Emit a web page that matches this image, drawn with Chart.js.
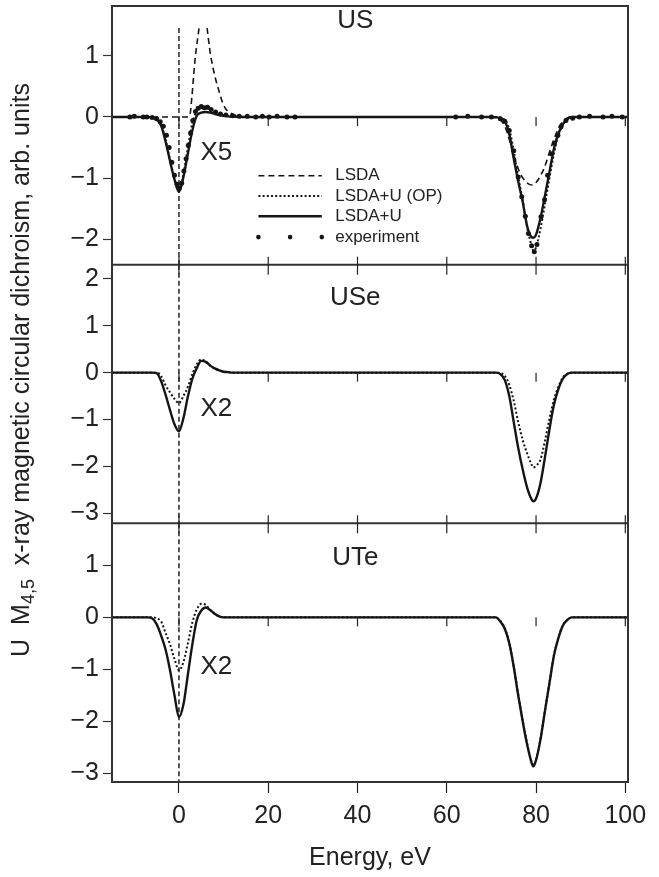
<!DOCTYPE html>
<html>
<head>
<meta charset="utf-8">
<script src="https://cdn.jsdelivr.net/npm/chart.js@4.4.1/dist/chart.umd.min.js"></script>
<style>
html,body{margin:0;padding:0;background:#fff;}
canvas{display:block;}
</style>
</head>
<body>
<canvas id="c" width="659" height="877" style="width:659px;height:877px"></canvas>
<script>
// ---------------- DATA ----------------
const xTicks = [0, 20, 40, 60, 80, 100];
const usTicks = [-2, -1, 0, 1];
const useTicks = [-3, -2, -1, 0, 1, 2];
const uteTicks = [-3, -2, -1, 0, 1];

const panelNames = ['US', 'USe', 'UTe'];
const seriesNames = ['LSDA', 'LSDA+U (OP)', 'LSDA+U', 'experiment'];
const scaleNotes = ['X5', 'X2', 'X2'];

// common energy grid (eV) for the calculated spectra
const energy = [-15, -10, -7, -6, -5, -4, -3, -2, -1, 0,
  1, 2, 3, 4, 5, 6, 7, 8, 9, 10, 11, 12,
  14, 20, 40, 60, 68, 70,
  71, 72, 73, 74, 75, 76, 77, 78, 79,
  79.4,
  80, 81, 82, 83, 84, 85, 86, 87, 88,
  90, 95, 100.6];

const usLsdaU = [0, 0, 0, -0.01, -0.04, -0.14, -0.4, -0.72, -1.02, -1.22,
  -0.98, -0.6, -0.22, 0.02, 0.07, 0.08, 0.07, 0.05, 0.03, 0.02, 0.01, 0.005,
  0, 0, 0, 0, 0, 0,
  -0.005, -0.02, -0.07, -0.28, -0.68, -1.05, -1.38, -1.78, -1.96,
  -1.97,
  -1.92, -1.65, -1.28, -0.9, -0.52, -0.27, -0.12, -0.03, 0,
  0, 0, 0];

const usLsdaUOP = [0, 0, 0, -0.01, -0.04, -0.13, -0.37, -0.7, -1.0, -1.2,
  -0.93, -0.5, -0.1, 0.1, 0.16, 0.15, 0.12, 0.08, 0.05, 0.03, 0.02, 0.01,
  0, 0, 0, 0, 0, 0,
  0, -0.01, -0.05, -0.2, -0.55, -0.98, -1.36, -1.8, -2.1,
  -2.18,
  -2.13, -1.82, -1.42, -1.0, -0.6, -0.3, -0.13, -0.04, -0.01,
  0, 0, 0];

const useLsdaU = [0, 0, 0, 0, -0.01, -0.18, -0.47, -0.8, -1.1, -1.25,
  -0.97, -0.51, -0.13, 0.1, 0.25, 0.23, 0.15, 0.09, 0.05, 0.02, 0.01, 0,
  0, 0, 0, 0, 0, 0,
  0, -0.03, -0.16, -0.5, -1.05, -1.6, -2.06, -2.45, -2.7,
  -2.74,
  -2.68, -2.35, -1.8, -1.21, -0.69, -0.35, -0.13, -0.03, 0,
  0, 0, 0];

const useLsdaUOP = [0, 0, 0, 0, 0, -0.07, -0.27, -0.42, -0.56, -0.65,
  -0.5, -0.3, -0.03, 0.18, 0.28, 0.24, 0.15, 0.09, 0.05, 0.02, 0.01, 0,
  0, 0, 0, 0, 0, 0,
  0, -0.01, -0.07, -0.26, -0.6, -1.05, -1.43, -1.72, -1.96,
  -2.02,
  -1.98, -1.85, -1.45, -0.98, -0.58, -0.3, -0.1, -0.02, 0,
  0, 0, 0];

const uteLsdaU = [0, 0, 0, -0.02, -0.13, -0.35, -0.62, -1.02, -1.5, -1.92,
  -1.68, -1.1, -0.52, -0.05, 0.13, 0.19, 0.14, 0.07, 0.02, 0, 0, 0,
  0, 0, 0, 0, 0, 0,
  0, -0.08, -0.22, -0.5, -0.95, -1.5, -2.0, -2.45, -2.8,
  -2.87,
  -2.75, -2.35, -1.8, -1.27, -0.74, -0.4, -0.16, -0.05, 0,
  0, 0, 0];

const uteLsdaUOP = [0, 0, 0, 0, -0.02, -0.08, -0.3, -0.52, -0.8, -1.02,
  -0.86, -0.5, -0.1, 0.15, 0.26, 0.24, 0.14, 0.07, 0.02, 0, 0, 0,
  0, 0, 0, 0, 0, 0,
  0, -0.07, -0.21, -0.49, -0.94, -1.48, -1.98, -2.43, -2.78,
  -2.85,
  -2.73, -2.33, -1.79, -1.26, -0.73, -0.39, -0.15, -0.05, 0,
  0, 0, 0];

// plain LSDA for US (clipped at the top of the M5 peak)
const lsdaEnergy = [-15, -5, 0, 2, 2.5, 2.9, 3.6, 4.5, 5.4, 6.3, 7, 8, 8.7, 9.8, 10.5, 11.4, 12.5, 13.5, 16, 40,
  68, 71, 72, 73, 73.6, 74.7, 76.3, 77.5, 78.5, 79.2, 80, 81, 81.9, 83.4, 85.2, 86.7, 88, 100.6];
const usLsda = [0, 0, 0, 0, 0.05, 0.33, 0.93, 1.45, null, 1.45, 1.05, 0.68, 0.49, 0.23, 0.13, 0.07, 0.03, 0.01, 0, 0,
  0, -0.01, -0.05, -0.15, -0.27, -0.54, -0.9, -1.04, -1.1, -1.11, -1.07, -0.96, -0.82, -0.49, -0.16, -0.03, 0, 0];

// vertical dashed line at E = 0 in each panel
const markerEnergy = [0, 0];
const usMarker = [1.45, -2.41];
const useMarker = [2.3, -3.21];
const uteMarker = [1.81, -3.17];

// experiment (US)
const expEnergy = [-11, -10, -8, -7.2, -6, -5, -4.2, -3.5, -2.8, -2.2,
  -1.6, -1, -0.4, 0.1, 0.6, 1.1, 1.6, 2.1, 2.6, 3.1,
  3.7, 4.3, 5, 5.7, 6.4, 7.2, 8.2, 9.3, 10.5, 12,
  13.5, 15.3, 17.2, 18.7, 20.2, 22, 24.2, 26,
  62, 64.7, 67.8, 70,
  72, 73, 74, 75, 76, 76.8, 77.6, 78.3, 79, 79.6,
  80.2, 81.1, 81.9, 82.6, 83.4, 84.1, 84.9, 85.6, 86.7, 88.2,
  89.7, 92, 95, 97, 99.3];
const usExperiment = [0, 0.01, 0, 0, -0.01, -0.03, -0.08, -0.15, -0.3, -0.5,
  -0.74, -0.95, -1.1, -1.16, -1.08, -0.88, -0.68, -0.46, -0.26, -0.06,
  0.09, 0.14, 0.17, 0.15, 0.16, 0.12, 0.08, 0.05, 0.03, 0.02,
  0.01, 0.01, 0, 0.01, 0, 0.01, 0, 0,
  0, 0.01, 0, 0,
  -0.03, -0.07, -0.22, -0.55, -0.98, -1.3, -1.62, -1.9, -2.1, -2.2,
  -2.08, -1.63, -1.35, -0.95, -0.6, -0.43, -0.3, -0.16, -0.06, -0.02,
  0, 0.01, 0, 0.01, 0];

// ---------------- STYLE ----------------
const FONT = '"Liberation Sans", Arial, Helvetica, sans-serif';
const INK = '#151515';
const TEXT = '#222';
const FRAME = '#333';
const TICK_FONT = 25;

const pts = (xs, ys) => xs.map((x, i) => ({x: x, y: ys[i]}));
const solid = {borderColor: INK, borderWidth: 2.4, cubicInterpolationMode: 'monotone', pointRadius: 0, fill: false};
const dotted = {borderColor: INK, borderWidth: 2, borderDash: [2, 2.2], cubicInterpolationMode: 'monotone', pointRadius: 0, fill: false};
const dashed = {borderColor: INK, borderWidth: 1.6, borderDash: [6, 4], cubicInterpolationMode: 'monotone', pointRadius: 0, fill: false};
const marker = {borderColor: '#222', borderWidth: 1.5, borderDash: [5, 3], tension: 0, pointRadius: 0, fill: false};

const datasets = [
  Object.assign({label: seriesNames[2] + ' ' + panelNames[0], yAxisID: 'yUS', data: pts(energy, usLsdaU)}, solid),
  Object.assign({label: seriesNames[1] + ' ' + panelNames[0], yAxisID: 'yUS', data: pts(energy, usLsdaUOP)}, dotted),
  Object.assign({label: seriesNames[0] + ' ' + panelNames[0], yAxisID: 'yUS', data: pts(lsdaEnergy, usLsda), spanGaps: false}, dashed),
  {label: seriesNames[3] + ' ' + panelNames[0], yAxisID: 'yUS', data: pts(expEnergy, usExperiment), showLine: false,
   pointRadius: 2.5, pointBackgroundColor: INK, pointBorderWidth: 0, borderColor: INK},
  Object.assign({label: 'E=0 ' + panelNames[0], yAxisID: 'yUS', data: pts(markerEnergy, usMarker)}, marker),

  Object.assign({label: seriesNames[2] + ' ' + panelNames[1], yAxisID: 'yUSe', data: pts(energy, useLsdaU)}, solid),
  Object.assign({label: seriesNames[1] + ' ' + panelNames[1], yAxisID: 'yUSe', data: pts(energy, useLsdaUOP)}, dotted),
  Object.assign({label: 'E=0 ' + panelNames[1], yAxisID: 'yUSe', data: pts(markerEnergy, useMarker)}, marker),

  Object.assign({label: seriesNames[2] + ' ' + panelNames[2], yAxisID: 'yUTe', data: pts(energy, uteLsdaU)}, solid),
  Object.assign({label: seriesNames[1] + ' ' + panelNames[2], yAxisID: 'yUTe', data: pts(energy, uteLsdaUOP)}, dotted),
  Object.assign({label: 'E=0 ' + panelNames[2], yAxisID: 'yUTe', data: pts(markerEnergy, uteMarker)}, marker)
];

const tickLabel = v => (v < 0 ? '\u2212' + Math.abs(v) : String(v));

function yScale(ticks, min, max) {
  return {
    type: 'linear', position: 'left', stack: 'panels', stackWeight: 1, offset: false,
    min: min, max: max,
    afterBuildTicks: s => { s.ticks = ticks.map(v => ({value: v})); },
    afterFit: s => { s.width = 112; s.paddingTop = 0; s.paddingBottom = 0; },
    ticks: {font: {family: FONT, size: TICK_FONT}, color: TEXT, padding: 4, callback: tickLabel, autoSkip: false},
    grid: {drawOnChartArea: false, drawTicks: true, tickLength: 9, color: FRAME, tickWidth: 1.2},
    border: {display: true, color: FRAME, width: 2}
  };
}

// annotation anchors (data coordinates)
const panelLabelPos = [
  {axis: 'yUS', x: 39.5, y: 1.57},
  {axis: 'yUSe', x: 39.5, y: 1.6},
  {axis: 'yUTe', x: 39.5, y: 1.15}
];
const notePos = [
  {axis: 'yUS', x: 4.8, y: -0.58},
  {axis: 'yUSe', x: 4.8, y: -0.78},
  {axis: 'yUTe', x: 4.8, y: -0.96}
];
const legendRows = [-0.96, -1.29, -1.62, -1.96];
const legendSample = [17.8, 32];
const legendTextX = 35;

const decorations = {
  id: 'decorations',
  afterDatasetsDraw(chart) {
    const ctx = chart.ctx;
    const xs = chart.scales.x;
    const area = chart.chartArea;
    const sUS = chart.scales.yUS, sUSe = chart.scales.yUSe, sUTe = chart.scales.yUTe;
    ctx.save();
    ctx.strokeStyle = FRAME;
    ctx.lineWidth = 2;
    ctx.strokeRect(area.left, area.top, area.right - area.left, area.bottom - area.top);
    [sUS.bottom, sUSe.bottom].forEach(b => {
      ctx.beginPath(); ctx.moveTo(area.left, b); ctx.lineTo(area.right, b); ctx.stroke();
    });
    ctx.lineWidth = 1.2;
    ctx.strokeStyle = '#222';
    xTicks.forEach(v => {
      const px = xs.getPixelForValue(v);
      [sUS.bottom, sUSe.bottom].forEach(b => {
        ctx.beginPath(); ctx.moveTo(px, b - 8); ctx.lineTo(px, b + 10); ctx.stroke();
      });
      [sUS, sUSe, sUTe].forEach(s => {
        const y0 = s.getPixelForValue(0);
        ctx.beginPath(); ctx.moveTo(px, y0); ctx.lineTo(px, y0 + 9); ctx.stroke();
      });
    });
    ctx.restore();
  },
  afterDraw(chart) {
    const ctx = chart.ctx;
    const xs = chart.scales.x;
    ctx.save();
    ctx.fillStyle = TEXT;
    ctx.textBaseline = 'middle';
    ctx.font = '26px ' + FONT;
    ctx.textAlign = 'center';
    panelLabelPos.forEach((p, i) => {
      ctx.fillText(panelNames[i], xs.getPixelForValue(p.x), chart.scales[p.axis].getPixelForValue(p.y));
    });
    ctx.textAlign = 'left';
    notePos.forEach((p, i) => {
      ctx.fillText(scaleNotes[i], xs.getPixelForValue(p.x), chart.scales[p.axis].getPixelForValue(p.y));
    });
    // legend
    const sUS = chart.scales.yUS;
    const x1 = xs.getPixelForValue(legendSample[0]);
    const x2 = xs.getPixelForValue(legendSample[1]);
    const styles = [datasets[2], datasets[1], datasets[0], datasets[3]];
    ctx.font = '17px ' + FONT;
    legendRows.forEach((r, i) => {
      const y = sUS.getPixelForValue(r);
      const st = styles[i];
      ctx.strokeStyle = INK;
      ctx.fillStyle = INK;
      if (i < 3) {
        ctx.lineWidth = st.borderWidth;
        ctx.setLineDash(st.borderDash || []);
        ctx.beginPath(); ctx.moveTo(x1, y); ctx.lineTo(x2, y); ctx.stroke();
        ctx.setLineDash([]);
      } else {
        [x1, (x1 + x2) / 2, x2].forEach(px => {
          ctx.beginPath(); ctx.arc(px, y, 2.3, 0, Math.PI * 2); ctx.fill();
        });
      }
      ctx.fillStyle = TEXT;
      ctx.fillText(seriesNames[i], xs.getPixelForValue(legendTextX), y);
    });
    // y-axis title with subscript
    const big = '25px ' + FONT, small = '18px ' + FONT;
    const parts = [
      {t: 'U  M', f: big, dy: 0},
      {t: '4,5', f: small, dy: 7},
      {t: '  x-ray magnetic circular dichroism, arb. units', f: big, dy: 0}
    ];
    let total = 0;
    parts.forEach(p => { ctx.font = p.f; p.w = ctx.measureText(p.t).width; total += p.w; });
    ctx.translate(22, 370);
    ctx.rotate(-Math.PI / 2);
    let cx = -total / 2;
    ctx.textAlign = 'left';
    parts.forEach(p => { ctx.font = p.f; ctx.fillText(p.t, cx, p.dy); cx += p.w; });
    ctx.restore();
  }
};

new Chart(document.getElementById('c'), {
  type: 'line',
  data: {datasets: datasets},
  options: {
    responsive: false,
    animation: false,
    events: [],
    layout: {padding: {top: 6, right: 31, left: 0, bottom: 0}},
    plugins: {legend: {display: false}, tooltip: {enabled: false}, title: {display: false}},
    scales: {
      x: {
        type: 'linear', position: 'bottom', min: -15, max: 100.6,
        afterBuildTicks: s => { s.ticks = xTicks.map(v => ({value: v})); },
        afterFit: s => { s.height = 95; s.paddingLeft = 0; s.paddingRight = 0; },
        ticks: {font: {family: FONT, size: TICK_FONT}, color: TEXT, padding: 8, maxRotation: 0, autoSkip: false},
        grid: {drawOnChartArea: false, drawTicks: true, tickLength: 11, color: '#222', tickWidth: 1.2},
        border: {display: true, color: FRAME, width: 2},
        title: {display: true, text: 'Energy, eV', font: {family: FONT, size: TICK_FONT}, color: TEXT, padding: {top: 4, bottom: 4}}
      },
      yUTe: yScale(uteTicks, -3.17, 1.81),
      yUSe: yScale(useTicks, -3.21, 2.3),
      yUS: yScale(usTicks, -2.41, 1.81)
    }
  },
  plugins: [decorations]
});
</script>
</body>
</html>
